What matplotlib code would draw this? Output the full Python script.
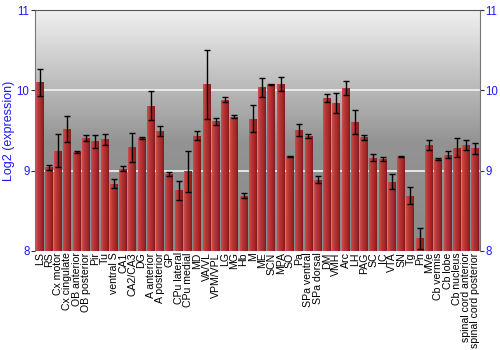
import numpy as np
import matplotlib.pyplot as plt
from matplotlib.colors import LinearSegmentedColormap

plt.rcParams['font.family'] = ['Liberation Sans', 'DejaVu Sans']

regions = ["LS", "RS", "Cx motor", "Cx cingulate", "OB anterior", "OB posterior",
           "Pir", "Tu", "ventral S", "CA1", "CA2/CA3", "DG", "A anterior",
           "A posterior", "GP", "CPu lateral", "CPu medial", "MD", "VA/VL",
           "VPM/VPL", "LG", "MG", "Hb", "M", "ME", "SCN", "MPA", "SO", "Pa",
           "SPa ventral", "SPa dorsal", "DM", "VMH", "Arc", "LH", "PAG", "SC",
           "IC", "VTA", "SN", "Tg", "Pn", "MVe", "Cb vermis", "Cb lobe",
           "Cb nucleus", "spinal cord anterior", "spinal cord posterior"]

expr = [10.10, 9.04, 9.25, 9.52, 9.23, 9.41, 9.365, 9.39, 8.84, 9.025, 9.29,
        9.405, 9.81, 9.49, 8.955, 8.755, 8.99, 9.435, 10.075, 9.615, 9.885,
        9.675, 8.69, 9.65, 10.04, 10.075, 10.08, 9.18, 9.51, 9.435, 8.89,
        9.91, 9.84, 10.03, 9.605, 9.415, 9.16, 9.145, 8.865, 9.175, 8.69,
        8.157, 9.32, 9.145, 9.20, 9.285, 9.32, 9.28]

err = [0.165, 0.033, 0.21, 0.16, 0.01, 0.035, 0.085, 0.066, 0.058, 0.033, 0.18,
       0.01, 0.18, 0.064, 0.027, 0.116, 0.25, 0.054, 0.43, 0.04, 0.033,
       0.02, 0.03, 0.166, 0.12, 0.005, 0.083, 0.005, 0.075, 0.027, 0.04,
       0.05, 0.126, 0.083, 0.154, 0.033, 0.044, 0.02, 0.098, 0.008, 0.108,
       0.13, 0.058, 0.01, 0.048, 0.116, 0.068, 0.066]

blue = '#1a1aff'

fig = plt.figure(figsize=(5, 3.5), dpi=100)
ax = fig.add_axes([0.07, 0.283, 0.89, 0.688])

x = np.arange(len(regions))

# background gradient
bg = LinearSegmentedColormap.from_list('bg', [(0, '#8a8a8a'), (0.45, '#939393'), (1, '#f0f0f0')])
grad = np.linspace(0, 1, 256).reshape(-1, 1)
ax.imshow(grad, aspect='auto', cmap=bg, origin='lower',
          extent=[-0.5, len(regions) - 0.5, 8, 11], zorder=0)

for yv in [9, 10]:
    ax.axhline(yv, color='#f4f4f4', lw=1.2, zorder=1)

bars = ax.bar(x, np.array(expr) - 8, bottom=8, width=0.86, color='#b03030',
              edgecolor='none', zorder=2)

barmap = LinearSegmentedColormap.from_list('bar', ['#c95050', '#b83535', '#a82a2a', '#7e1c1c'])
hgrad = np.linspace(0, 1, 64).reshape(1, -1)
for b in bars:
    im = ax.imshow(hgrad, aspect='auto', cmap=barmap,
                   extent=[b.get_x(), b.get_x() + b.get_width(), 8, b.get_y() + b.get_height()],
                   zorder=2.5)
    im.set_clip_path(b)

ax.errorbar(x, expr, yerr=err, fmt='none', ecolor='black', elinewidth=1,
            capsize=2.5, capthick=1, zorder=3)

ax.set_xlim(-0.5, len(regions) - 0.5)
ax.set_ylim(8, 11)

ax.set_yticks([8, 9, 10, 11])
ax.tick_params(axis='y', colors='#333333', labelcolor=blue, labelsize=8.3,
               left=True, right=True, labelleft=True, labelright=True,
               length=3, pad=1)
ax.set_xticks(x)
ax.set_xticklabels(regions, rotation=90, fontsize=7.6)
ax.tick_params(axis='x', length=0, pad=1)
ax.set_ylabel("Log2 (expression)", color=blue, fontsize=9, labelpad=1)

ax.spines['top'].set_color('#555555')
ax.spines['left'].set_color('#777777')
ax.spines['right'].set_color('#777777')
ax.spines['bottom'].set_visible(False)

fig.savefig('out.png', dpi=100)
